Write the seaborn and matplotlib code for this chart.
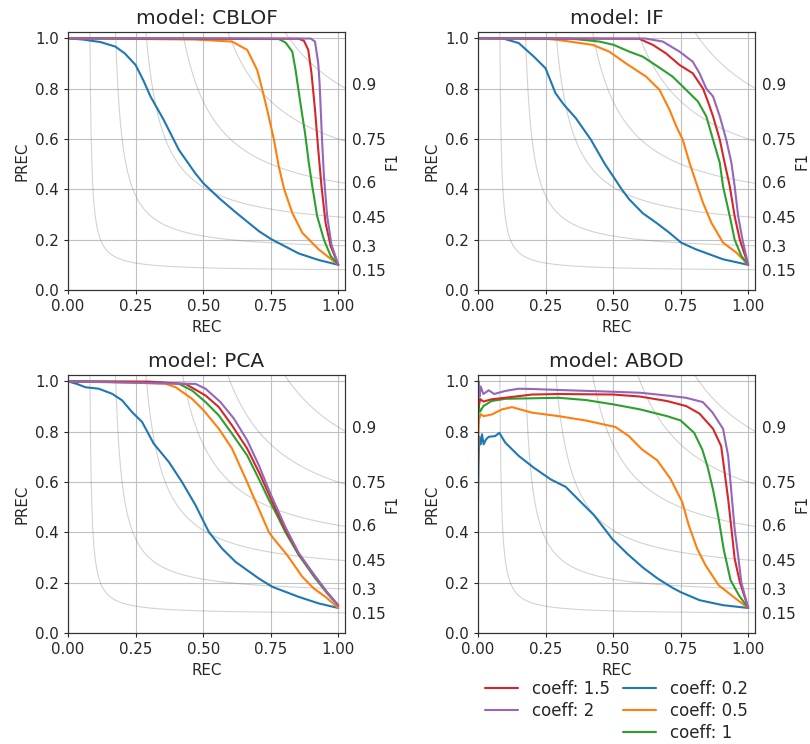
import numpy as np
import pandas as pd
import matplotlib
matplotlib.use("Agg")
import matplotlib.pyplot as plt
from matplotlib.lines import Line2D
import seaborn as sns

# iso-F1 reference levels and coefficient labels
f1_levels = [0.15, 0.3, 0.45, 0.6, 0.75, 0.9]
coeffs = ["coeff: 0.2", "coeff: 0.5", "coeff: 1", "coeff: 1.5", "coeff: 2"]
colors = ["#1f77b4", "#ff7f0e", "#2ca02c", "#d62728", "#9467bd"]
models = ["CBLOF", "IF", "PCA", "ABOD"]

# CBLOF
cblof_02_rec = [0.0, 0.055, 0.12, 0.175, 0.21, 0.25, 0.28, 0.305, 0.354, 0.41, 0.47, 0.5, 0.558, 0.62, 0.706, 0.75, 0.854, 0.928, 1.0]
cblof_02_prec = [1.0, 0.995, 0.985, 0.967, 0.94, 0.894, 0.83, 0.769, 0.676, 0.557, 0.465, 0.425, 0.366, 0.309, 0.234, 0.203, 0.145, 0.119, 0.1]
cblof_05_rec = [0.0, 0.47, 0.607, 0.663, 0.7, 0.718, 0.737, 0.762, 0.78, 0.8, 0.83, 0.867, 0.928, 1.0]
cblof_05_prec = [1.0, 0.995, 0.987, 0.954, 0.874, 0.80, 0.716, 0.597, 0.49, 0.40, 0.306, 0.227, 0.161, 0.1]
cblof_1_rec = [0.0, 0.78, 0.805, 0.83, 0.842, 0.86, 0.877, 0.891, 0.904, 0.922, 0.947, 0.972, 1.0]
cblof_1_prec = [1.0, 0.997, 0.983, 0.947, 0.874, 0.742, 0.624, 0.505, 0.412, 0.293, 0.20, 0.135, 0.1]
cblof_15_rec = [0.0, 0.854, 0.873, 0.889, 0.901, 0.914, 0.926, 0.938, 0.953, 0.972, 1.0]
cblof_15_prec = [1.0, 0.998, 0.99, 0.954, 0.861, 0.716, 0.557, 0.412, 0.267, 0.174, 0.1]
cblof_2_rec = [0.0, 0.898, 0.914, 0.926, 0.931, 0.94, 0.947, 0.959, 0.975, 1.0]
cblof_2_prec = [1.0, 0.999, 0.987, 0.90, 0.82, 0.597, 0.452, 0.293, 0.18, 0.1]

# IF
if_02_rec = [0.0, 0.09, 0.151, 0.207, 0.25, 0.287, 0.318, 0.362, 0.418, 0.47, 0.5, 0.532, 0.56, 0.61, 0.66, 0.709, 0.752, 0.808, 0.907, 1.0]
if_02_prec = [1.0, 1.0, 0.981, 0.927, 0.881, 0.782, 0.736, 0.683, 0.597, 0.5, 0.452, 0.40, 0.36, 0.305, 0.267, 0.227, 0.188, 0.161, 0.122, 0.1]
if_05_rec = [0.0, 0.25, 0.3, 0.424, 0.486, 0.548, 0.622, 0.672, 0.709, 0.734, 0.758, 0.783, 0.808, 0.833, 0.864, 0.907, 0.957, 1.0]
if_05_prec = [1.0, 0.998, 0.993, 0.974, 0.947, 0.90, 0.848, 0.795, 0.716, 0.65, 0.597, 0.505, 0.425, 0.346, 0.267, 0.188, 0.148, 0.1]
if_1_rec = [0.0, 0.35, 0.449, 0.502, 0.56, 0.61, 0.665, 0.72, 0.764, 0.814, 0.845, 0.87, 0.895, 0.907, 0.932, 0.95, 0.975, 1.0]
if_1_prec = [1.0, 0.998, 0.987, 0.974, 0.947, 0.927, 0.888, 0.848, 0.802, 0.749, 0.69, 0.597, 0.505, 0.412, 0.293, 0.2, 0.135, 0.1]
if_15_rec = [0.0, 0.597, 0.647, 0.696, 0.746, 0.795, 0.833, 0.851, 0.87, 0.895, 0.913, 0.932, 0.95, 0.969, 1.0]
if_15_prec = [1.0, 0.998, 0.974, 0.94, 0.894, 0.861, 0.80, 0.749, 0.69, 0.597, 0.505, 0.412, 0.293, 0.20, 0.1]
if_2_rec = [0.0, 0.62, 0.684, 0.746, 0.795, 0.82, 0.845, 0.87, 0.895, 0.919, 0.938, 0.95, 0.963, 0.979, 1.0]
if_2_prec = [1.0, 0.999, 0.987, 0.947, 0.907, 0.861, 0.80, 0.769, 0.69, 0.597, 0.505, 0.412, 0.293, 0.20, 0.1]

# PCA
pca_02_rec = [0.0, 0.033, 0.064, 0.114, 0.163, 0.2, 0.237, 0.274, 0.317, 0.373, 0.422, 0.472, 0.521, 0.57, 0.62, 0.706, 0.756, 0.854, 0.928, 1.0]
pca_02_prec = [1.0, 0.99, 0.977, 0.971, 0.951, 0.925, 0.878, 0.839, 0.753, 0.68, 0.60, 0.508, 0.402, 0.336, 0.283, 0.217, 0.184, 0.144, 0.118, 0.1]
pca_05_rec = [0.0, 0.15, 0.36, 0.398, 0.459, 0.502, 0.558, 0.607, 0.657, 0.7, 0.743, 0.756, 0.811, 0.867, 0.91, 0.953, 1.0]
pca_05_prec = [1.0, 0.998, 0.991, 0.977, 0.931, 0.885, 0.812, 0.733, 0.614, 0.508, 0.402, 0.382, 0.31, 0.224, 0.177, 0.144, 0.1]
pca_1_rec = [0.0, 0.3, 0.41, 0.459, 0.509, 0.558, 0.607, 0.663, 0.712, 0.743, 0.768, 0.805, 0.854, 0.91, 0.959, 1.0]
pca_1_prec = [1.0, 0.998, 0.991, 0.964, 0.918, 0.865, 0.792, 0.706, 0.60, 0.53, 0.48, 0.40, 0.31, 0.225, 0.158, 0.11]
pca_15_rec = [0.0, 0.3, 0.435, 0.509, 0.558, 0.607, 0.663, 0.712, 0.756, 0.805, 0.854, 0.91, 0.959, 1.0]
pca_15_prec = [1.0, 0.999, 0.99, 0.944, 0.898, 0.825, 0.733, 0.627, 0.521, 0.41, 0.315, 0.232, 0.162, 0.11]
pca_2_rec = [0.0, 0.472, 0.509, 0.564, 0.614, 0.663, 0.706, 0.749, 0.805, 0.854, 0.91, 0.959, 1.0]
pca_2_prec = [1.0, 0.99, 0.971, 0.918, 0.852, 0.766, 0.667, 0.554, 0.42, 0.318, 0.232, 0.162, 0.11]

# ABOD
abod_02_rec = [0.0, 0.0, 0.002, 0.005, 0.01, 0.015, 0.021, 0.03, 0.04, 0.064, 0.079, 0.101, 0.151, 0.207, 0.269, 0.325, 0.374, 0.43, 0.498, 0.554, 0.61, 0.665, 0.72, 0.75, 0.82, 0.907, 1.0]
abod_02_prec = [0.0, 0.5, 0.67, 0.78, 0.75, 0.79, 0.75, 0.77, 0.78, 0.783, 0.796, 0.757, 0.704, 0.657, 0.611, 0.581, 0.528, 0.468, 0.373, 0.314, 0.261, 0.217, 0.18, 0.163, 0.131, 0.111, 0.1]
abod_05_rec = [0.0, 0.0, 0.002, 0.004, 0.01, 0.021, 0.052, 0.089, 0.126, 0.2, 0.299, 0.398, 0.509, 0.558, 0.607, 0.663, 0.712, 0.756, 0.78, 0.811, 0.842, 0.891, 0.953, 1.0]
abod_05_prec = [0.5, 0.6, 0.8, 0.85, 0.87, 0.862, 0.869, 0.889, 0.898, 0.876, 0.862, 0.845, 0.819, 0.783, 0.73, 0.687, 0.614, 0.521, 0.429, 0.336, 0.27, 0.19, 0.138, 0.1]
abod_1_rec = [0.0, 0.003, 0.008, 0.02, 0.05, 0.1, 0.2, 0.3, 0.4, 0.5, 0.6, 0.7, 0.75, 0.8, 0.83, 0.85, 0.87, 0.89, 0.91, 0.935, 0.966, 1.0]
abod_1_prec = [0.83, 0.9, 0.88, 0.902, 0.922, 0.931, 0.933, 0.935, 0.926, 0.909, 0.889, 0.862, 0.845, 0.796, 0.73, 0.66, 0.57, 0.46, 0.33, 0.21, 0.15, 0.1]
abod_15_rec = [0.0, 0.003, 0.008, 0.02, 0.05, 0.1, 0.2, 0.3, 0.5, 0.6, 0.7, 0.771, 0.82, 0.87, 0.9, 0.913, 0.926, 0.938, 0.95, 0.969, 1.0]
abod_15_prec = [0.95, 0.9, 0.93, 0.92, 0.929, 0.935, 0.948, 0.95, 0.948, 0.94, 0.922, 0.902, 0.872, 0.812, 0.743, 0.638, 0.532, 0.415, 0.296, 0.204, 0.1]
abod_2_rec = [0.0, 0.003, 0.006, 0.01, 0.02, 0.04, 0.06, 0.1, 0.15, 0.2, 0.3, 0.5, 0.6, 0.7, 0.77, 0.832, 0.867, 0.907, 0.926, 0.938, 0.95, 0.963, 0.975, 1.0]
abod_2_prec = [0.93, 1.0, 0.94, 0.98, 0.95, 0.965, 0.95, 0.962, 0.971, 0.97, 0.966, 0.959, 0.955, 0.944, 0.935, 0.918, 0.878, 0.812, 0.704, 0.558, 0.413, 0.307, 0.2, 0.1]

curves = {
    "CBLOF": [(cblof_02_rec, cblof_02_prec), (cblof_05_rec, cblof_05_prec), (cblof_1_rec, cblof_1_prec), (cblof_15_rec, cblof_15_prec), (cblof_2_rec, cblof_2_prec)],
    "IF": [(if_02_rec, if_02_prec), (if_05_rec, if_05_prec), (if_1_rec, if_1_prec), (if_15_rec, if_15_prec), (if_2_rec, if_2_prec)],
    "PCA": [(pca_02_rec, pca_02_prec), (pca_05_rec, pca_05_prec), (pca_1_rec, pca_1_prec), (pca_15_rec, pca_15_prec), (pca_2_rec, pca_2_prec)],
    "ABOD": [(abod_02_rec, abod_02_prec), (abod_05_rec, abod_05_prec), (abod_1_rec, abod_1_prec), (abod_15_rec, abod_15_prec), (abod_2_rec, abod_2_prec)],
}

sns.set_style("ticks", {"axes.grid": True, "grid.color": "#c0c0c0", "axes.edgecolor": "0.2"})
plt.rcParams["font.family"] = ["DejaVu Sans"]
plt.rcParams["xtick.labelsize"] = 10.8
plt.rcParams["ytick.labelsize"] = 10.8
plt.rcParams["axes.labelsize"] = 10.8
plt.rcParams["axes.titlesize"] = 14.5
plt.rcParams["grid.linewidth"] = 0.8

palette = dict(zip(coeffs, colors))

fig, axes = plt.subplots(2, 2, figsize=(8.1, 7.44), dpi=100)
plt.subplots_adjust(left=0.084, right=0.932, top=0.957, bottom=0.149, wspace=0.48, hspace=0.33)

for ax, model in zip(axes.flat, models):
    # iso-F1 guide curves
    for f in f1_levels:
        x = np.linspace(0.01, 1.05, 400)
        y = f * x / (2 * x - f)
        keep = (y >= 0) & (y <= 1.2)
        ax.plot(x[keep], y[keep], color="gray", alpha=0.35, lw=0.8)

    rows = []
    for label, (rec, prec) in zip(coeffs, curves[model]):
        rows.append(pd.DataFrame({"REC": rec, "PREC": prec, "coeff": label}))
    df = pd.concat(rows, ignore_index=True)
    sns.lineplot(data=df, x="REC", y="PREC", hue="coeff", hue_order=coeffs,
                 palette=palette, estimator=None, sort=False, lw=1.5,
                 legend=False, ax=ax, zorder=3)

    ax.set_xlim(0, 1.025)
    ax.set_ylim(0, 1.025)
    ax.set_xticks([0.0, 0.25, 0.5, 0.75, 1.0])
    ax.set_xticklabels(["0.00", "0.25", "0.50", "0.75", "1.00"])
    ax.set_yticks([0.0, 0.2, 0.4, 0.6, 0.8, 1.0])
    ax.tick_params(length=3)
    ax.set_title(f"model: {model}")
    ax.set_xlabel("REC")
    ax.set_ylabel("PREC")

    ax2 = ax.twinx()
    ax2.grid(False)
    ax2.set_ylim(ax.get_ylim())
    ax2.set_yticks([f / (2 - f) for f in f1_levels])
    ax2.set_yticklabels([str(f) for f in f1_levels])
    ax2.tick_params(length=0, pad=5, labelsize=11)
    ax2.set_ylabel("F1", labelpad=-1)

handles = {c: Line2D([], [], color=col, lw=1.5) for c, col in zip(coeffs, colors)}
blank = Line2D([], [], color="none")
order = ["coeff: 1.5", "coeff: 2", None, "coeff: 0.2", "coeff: 0.5", "coeff: 1"]
axes[1, 1].legend([handles[o] if o else blank for o in order],
                  [o if o else "" for o in order],
                  loc="upper center", bbox_to_anchor=(0.5, -0.122), ncol=2,
                  frameon=False, fontsize=12, handlelength=2.0,
                  columnspacing=0.8, labelspacing=0.25)

plt.savefig("out.png", dpi=100)
